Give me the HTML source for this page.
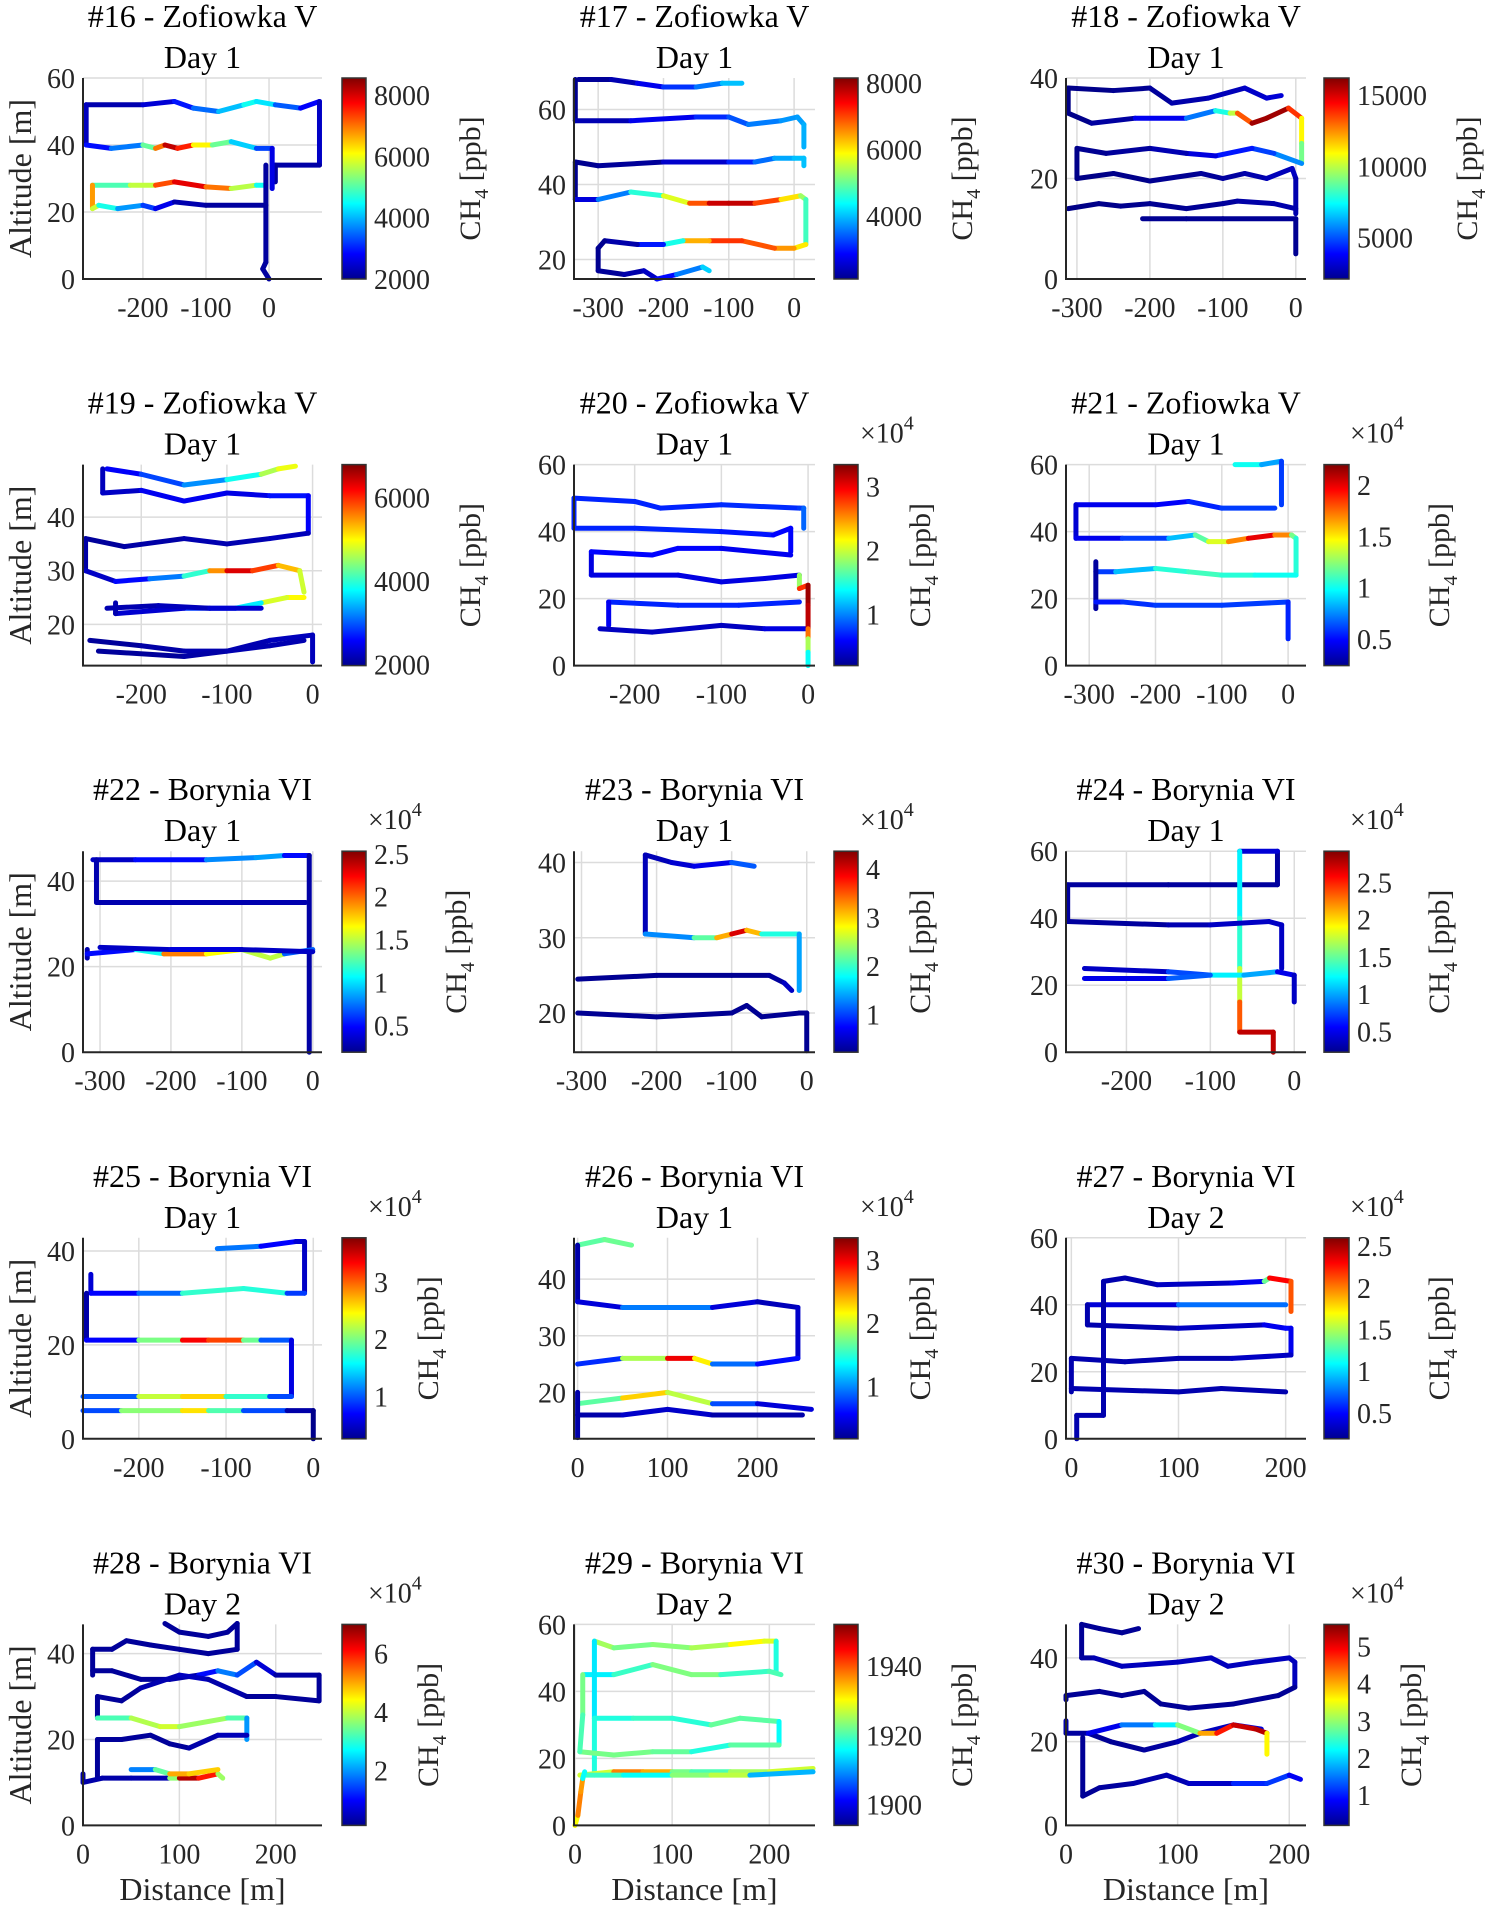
<!DOCTYPE html>
<html><head><meta charset="utf-8">
<style>
html,body{margin:0;padding:0;background:#fff;}
svg{display:block;font-family:"Liberation Serif","Times New Roman",serif;}
</style></head>
<body>
<svg id="fig" xmlns="http://www.w3.org/2000/svg" width="1493" height="1912" viewBox="0 0 1493 1912">
<defs>
<linearGradient id="jet" x1="0" y1="1" x2="0" y2="0">
<stop offset="0" stop-color="#00008f"/><stop offset="0.125" stop-color="#0000ff"/><stop offset="0.375" stop-color="#00ffff"/><stop offset="0.625" stop-color="#ffff00"/><stop offset="0.875" stop-color="#ff0000"/><stop offset="1" stop-color="#800000"/>
</linearGradient>
</defs>
</svg>
<script>
// ---- panel meta data ----
const panelIds=[16,17,18,19,20,21,22,23,24,25,26,27,28,29,30];
const panelSites=["Zofiowka V","Zofiowka V","Zofiowka V","Zofiowka V","Zofiowka V","Zofiowka V","Borynia VI","Borynia VI","Borynia VI","Borynia VI","Borynia VI","Borynia VI","Borynia VI","Borynia VI","Borynia VI"];
const panelDays=[1,1,1,1,1,1,1,1,1,1,1,2,2,2,2];
const xLims=[[-295,84],[-337,32],[-315,14],[-268,11],[-270,8],[-335,27],[-324,13],[-310,11],[-272,14],[-264,10],[-4,264],[-5,219],[0,248],[-1,247],[0,215]];
const yLims=[[0,60],[14.8,68.4],[0,40],[12.3,49.8],[0,60],[0,60],[0,47],[14.8,41.5],[0,60],[0,42.8],[11.8,47.3],[0,60],[0,46.8],[0,60],[0,48]];
const xTicks=[[-200,-100,0],[-300,-200,-100,0],[-300,-200,-100,0],[-200,-100,0],[-200,-100,0],[-300,-200,-100,0],[-300,-200,-100,0],[-300,-200,-100,0],[-200,-100,0],[-200,-100,0],[0,100,200],[0,100,200],[0,100,200],[0,100,200],[0,100,200]];
const yTicks=[[0,20,40,60],[20,40,60],[0,20,40],[20,30,40],[0,20,40,60],[0,20,40,60],[0,20,40],[20,30,40],[0,20,40,60],[0,20,40],[20,30,40],[0,20,40,60],[0,20,40],[0,20,40,60],[0,20,40]];
const cLims=[[2000,8560],[2100,8150],[2100,16200],[1970,6790],[0.2,3.34],[0.24,2.2],[0.19,2.53],[0.22,4.37],[0.22,2.92],[0.26,3.77],[0.17,3.35],[0.19,2.6],[0.12,7.0],[1894,1952],[0.18,5.6]];
const cTicks=[[2000,4000,6000,8000],[4000,6000,8000],[5000,10000,15000],[2000,4000,6000],[1,2,3],[0.5,1,1.5,2],[0.5,1,1.5,2,2.5],[1,2,3,4],[0.5,1,1.5,2,2.5],[1,2,3],[1,2,3],[0.5,1,1.5,2,2.5],[2,4,6],[1900,1920,1940],[1,2,3,4,5]];
const cExp=[false,false,false,false,true,true,true,true,true,true,true,true,true,false,true];

// ---- flight tracks: [distance, altitude, CH4] ----
const tracks16=[
[[-290,52,2200],[-200,52,2400],[-150,53,2700],[-120,51,3200],[-80,50,3800],[-40,52,4300],[-20,53,4800],[10,52,3800],[50,51,3000],[80,53,2600],[80,34,2300],[10,34,2200],[10,29,2200]],
[[-290,52,2200],[-290,40,2600]],
[[-290,40,2800],[-250,39,3000],[-200,40,4200],[-180,39,6000],[-165,40,8000],[-145,39,8300],[-120,40,6800],[-90,40,5500],[-60,41,4800],[-20,39,3500],[5,39,3000],[5,27,2300]],
[[-280,28,4700],[-220,28,5200],[-180,28,6200],[-150,29,8300],[-100,27.5,7500],[-60,27,6500],[-20,28,4800],[-5,28,4300]],
[[-280,28,7000],[-280,21,6500],[-270,22,5000],[-240,21,4200],[-200,22,3400],[-180,21,3000],[-150,23,2400],[-100,22,2200],[-5,22,2200]],
[[-5,34,2200],[-5,5,2200],[-10,3,2200],[0,0,2200]]];
const tracks17=[
[[-330,68,2200],[-280,68,2300],[-240,67,2500],[-200,66,3000],[-150,66,3300],[-110,67,3800],[-80,67,4200]],
[[-335,68,2200],[-335,57,2200]],
[[-335,57,2300],[-250,57,2500],[-150,58,3000],[-100,58,3200],[-70,56,3500],[-20,57,3700],[5,58,3800],[15,56,3800],[15,50,4000]],
[[-335,46,2200],[-300,45,2200],[-200,46,2300],[-100,46,2800],[-60,46,3300],[-30,47,3700],[0,47,4000],[15,47,4000],[15,45,4000]],
[[-335,46,2200],[-335,36,2200]],
[[-335,36,2300],[-300,36,3000],[-250,38,4200],[-200,37,5000],[-160,35,6400],[-130,35,7400],[-100,35,8000],[-60,35,7500],[-20,36,6500],[10,37,5600],[18,36,5000],[18,24,4500]],
[[18,24,5800],[0,23,6200],[-30,23,6800],[-80,25,7000],[-130,25,7200],[-170,25,5500],[-200,24,3500],[-240,24,2500],[-290,25,2200],[-300,23,2200],[-300,17,2200]],
[[-300,17,2200],[-260,16,2300],[-230,17,2400],[-210,14.8,2600],[-180,16,3200],[-140,18,4000],[-130,17,4200]]];
const tracks18=[
[[-312,38,2200],[-250,37.5,2300],[-200,38,2400],[-170,35,2600],[-120,36,2800],[-70,38,3000],[-40,36,3200],[-20,36.5,3400]],
[[-312,38,2200],[-312,33,2200]],
[[-312,33,2200],[-280,31,2300],[-220,32,2800],[-150,32,4500],[-110,33.5,6500],[-90,33,9000],[-80,33,11000],[-60,31,15500],[-40,32,16000],[-10,34,15500],[8,32,12000],[8,27,10000],[8,23,8000]],
[[8,23,6500],[-30,25,5000],[-60,26,4500],[-110,24.5,3800],[-150,25,3000],[-200,26,2600],[-260,25,2400],[-300,26,2300],[-300,20,2200]],
[[-300,20,2200],[-250,21,2200],[-200,19.5,2300],[-130,21,2400],[-100,20,2500],[-70,21,2600],[-40,20,2800],[-5,22,3000],[0,20,3000],[0,13,2500]],
[[-312,14,2200],[-270,15,2200],[-240,14.5,2300],[-200,15,2300],[-150,14,2400],[-100,15,2400],[-80,15.5,2600],[-30,15,2700],[0,14,2700]],
[[-210,12,2300],[-150,12,2400],[-100,12,2400],[0,12,2400],[0,5,2300]]];
const tracks19=[
[[-240,49,2300],[-200,48,2800],[-150,46,3000],[-100,47,3500],[-60,48,4200],[-40,49,5000],[-20,49.5,4800]],
[[-245,49,2300],[-245,44.5,2200]],
[[-245,44.5,2200],[-200,45,2400],[-150,43,2600],[-100,44.5,2400],[-50,44,2500],[-5,44,2800],[-5,37,2300]],
[[-265,36,2100],[-220,34.5,2100],[-150,36,2200],[-100,35,2200],[-50,36,2200],[-5,37,2300]],
[[-265,36,2100],[-265,30,2200]],
[[-265,30,2200],[-230,28,2400],[-190,28.5,2800],[-150,29,3500],[-120,30,4500],[-100,30,6500],[-70,30,6200],[-40,31,5600],[-15,30,5000],[-10,26,4500]],
[[-10,25,4600],[-30,25,5400],[-60,24,4200],[-90,23,3200],[-150,23,2500],[-230,22,2200],[-230,24,2200]],
[[-240,23,2200],[-180,23.5,2200],[-120,23,2300],[-60,23,2400]],
[[-260,17,2100],[-200,16,2100],[-150,15,2200],[-100,15,2200],[-50,17,2200],[0,18,2300],[0,13,2200]],
[[-250,15,2100],[-150,14,2100],[-100,15,2200],[-50,16,2200],[-10,17,2200]]];
const tracks20=[
[[-270,50,0.7],[-200,49,0.7],[-170,47,0.7],[-100,48,0.7],[-10,47,0.75],[-5,47,0.8],[-5,41,1.0]],
[[-270,50,0.7],[-270,41,0.7]],
[[-270,41,0.7],[-200,41,0.7],[-100,40,0.7],[-40,39,0.6],[-20,41,0.6],[-20,34,0.6]],
[[-250,34,0.5],[-250,27,0.5]],
[[-250,34,0.6],[-180,33,0.6],[-150,35,0.6],[-100,35,0.6],[-20,33,0.5]],
[[-250,27,0.5],[-150,27,0.5],[-100,25,0.5],[-50,26,0.5],[-10,27,0.5]],
[[-230,19,0.7],[-150,18,0.7],[-80,18,0.7],[-10,19,0.7]],
[[-230,19,0.6],[-230,12,0.5]],
[[-240,11,0.4],[-180,10,0.4],[-100,12,0.4],[-50,11,0.4],[0,11,0.6]],
[[-10,27,1.3],[-10,23,2.4],[0,24,3.2],[0,18,3.3],[0,11,3.0],[0,8,2.2],[0,4,1.6],[0,0,1.2]]];
const tracks21=[
[[-80,60,1.1],[-40,60,0.9],[-10,61,0.7],[-10,48,0.5]],
[[-320,48,0.45],[-200,48,0.45],[-150,49,0.5],[-100,47,0.6],[-20,47,0.6]],
[[-320,48,0.4],[-320,38,0.4]],
[[-320,38,0.4],[-250,38,0.5],[-180,38,0.7],[-140,39,1.0],[-120,37,1.3],[-90,37,1.5],[-60,38,1.9],[-20,39,2.1],[5,39,1.3],[12,38,1.1],[12,27,1.0]],
[[-290,28,0.5],[-260,28,0.7],[-200,29,1.0],[-150,28,1.1],[-100,27,1.1],[-50,27,1.0],[12,27,1.0]],
[[-290,31,0.3],[-290,17,0.3]],
[[-290,19,0.5],[-250,19,0.55],[-200,18,0.6],[-100,18,0.6],[0,19,0.6],[0,8,0.5]]];
const tracks22=[
[[-310,45,0.3],[-250,45,0.4],[-150,45,0.6],[-80,45.5,1.0],[-40,46,0.7],[-5,46,0.3],[-5,0,0.25]],
[[-305,45,0.3],[-305,35,0.3]],
[[-305,35,0.3],[-200,35,0.3],[-100,35,0.3],[-10,35,0.3]],
[[-318,24,0.3],[-318,22,0.3]],
[[-318,23,0.4],[-250,24,0.6],[-210,23,1.6],[-150,23,2.3],[-100,24,1.0],[-60,22,2.0],[-40,23,1.0],[0,24,0.4]],
[[-300,24.5,0.3],[-200,24,0.4],[-100,24,0.4],[0,23.5,0.3]]];
const tracks23=[
[[-215,41,0.4],[-180,40,0.5],[-150,39.5,0.6],[-100,40,0.7],[-70,39.5,1.5]],
[[-215,41,0.4],[-215,30.5,0.5]],
[[-215,30.5,0.8],[-150,30,1.8],[-120,30,2.5],[-100,30.5,3.8],[-80,31,4.2],[-60,30.5,2.0],[-10,30.5,1.8],[-10,23,1.0]],
[[-305,24.5,0.3],[-200,25,0.3],[-100,25,0.3],[-50,25,0.3],[-30,24,0.4],[-20,23,0.6]],
[[-305,20,0.3],[-200,19.5,0.3],[-100,20,0.3],[-80,21,0.3],[-60,19.5,0.3],[-10,20,0.3],[0,20,0.3],[0,15,0.3]]];
const tracks24=[
[[-270,50,0.3],[-150,50,0.3],[-20,50,0.3],[-20,60,0.3],[-65,60,0.6]],
[[-65,60,1.2],[-65,40,1.2],[-65,25,1.5],[-65,15,2.0],[-65,6,2.7],[-25,6,2.8],[-25,0,2.7]],
[[-270,39,0.3],[-150,38,0.3],[-100,38,0.4],[-30,39,0.4],[-15,38,0.4],[-15,25,0.4]],
[[-250,25,0.3],[-150,24,0.5],[-100,23,1.0],[-60,23,1.4],[-20,24,0.6],[0,23,0.4],[0,15,0.4]],
[[-250,22,0.4],[-150,22,0.6],[-100,23,1.0]],
[[-270,50,0.3],[-270,39,0.3]]];
const tracks25=[
[[-110,40.5,1.4],[-60,41,0.8],[-20,42,0.6],[-10,42,0.5],[-10,31,0.5]],
[[-255,35,0.5],[-255,31,0.6],[-200,31,0.8],[-150,31,1.3],[-80,32,2.2],[-30,31,1.2],[-10,31,0.6]],
[[-260,31,0.4],[-260,21,0.4],[-200,21,1.0],[-150,21,3.0],[-120,21,3.7],[-80,21,2.5],[-60,21,1.4],[-25,21,0.6],[-25,9,0.6]],
[[-264,9,0.5],[-200,9,1.5],[-150,9,3.0],[-100,9,2.2],[-50,9,1.3],[-25,9,0.6]],
[[-264,6,0.6],[-220,6,1.3],[-150,6,2.8],[-120,6,2.3],[-80,6,1.4],[-30,6,0.5],[0,6,0.3],[0,0,0.3]]];
const tracks26=[
[[0,46,1.5],[30,47,1.8],[60,46,1.6]],
[[0,46,0.3],[0,36,0.3]],
[[0,36,0.3],[50,35,0.6],[100,35,1.3],[150,35,0.6],[200,36,0.3],[245,35,0.4],[245,26,0.4]],
[[0,25,0.4],[50,26,1.0],[100,26,2.8],[130,26,3.2],[150,25,1.2],[200,25,0.6],[245,26,0.6]],
[[0,18,1.3],[50,19,2.0],[100,20,2.6],[150,18,1.3],[200,18,0.3],[260,17,0.6]],
[[0,16,0.3],[50,16,0.3],[100,17,0.5],[150,16,0.3],[250,16,0.3]],
[[0,20,0.3],[0,12,0.3]]];
const tracks27=[
[[30,47,0.3],[50,48,0.3],[80,46,0.3],[150,46.5,0.4],[180,47,0.5],[185,48,2.2],[205,47,2.4],[205,38,1.8]],
[[15,40,0.3],[100,40,0.5],[200,40,1.0]],
[[15,40,0.3],[15,34,0.3],[100,33,0.3],[180,34,0.4],[200,33,0.5],[205,33,0.5],[205,25,0.4]],
[[0,24,0.3],[50,23,0.3],[100,24,0.3],[150,24,0.3],[205,25,0.4]],
[[0,15,0.3],[100,14,0.3],[140,15,0.3],[200,14,0.3]],
[[30,47,0.3],[30,7,0.3],[5,7,0.3],[5,0,0.3]],
[[0,24,0.3],[0,14,0.3]]];
const tracks28=[
[[85,47,0.3],[100,45,0.3],[130,44,0.3],[150,45,0.3],[160,47,0.3],[160,41,0.3]],
[[10,41,0.3],[30,41,0.3],[45,43,0.3],[70,42,0.3],[100,41,0.3],[130,40,0.3],[160,41,0.3]],
[[10,41,0.3],[10,35,0.3]],
[[10,36,0.3],[30,36,0.3],[60,34,0.3],[90,34,0.3],[120,35,0.5],[140,36,1.6],[160,35,2.0],[180,38,1.0],[200,35,0.4],[245,35,0.3],[245,29,0.3]],
[[15,30,0.3],[40,29,0.3],[60,32,0.3],[100,35,0.6],[130,34,0.5],[170,30,0.3],[200,30,0.3],[245,29,0.3]],
[[15,30,0.3],[15,25,0.3]],
[[15,25,2.8],[50,25,3.6],[80,23,4.2],[100,23,4.0],[150,25,3.5],[170,25,3.0],[170,20,1.0]],
[[15,20,0.3],[40,20,0.3],[70,21,0.3],[90,19,0.3],[110,18,0.3],[140,21,0.5],[170,21,0.5]],
[[15,20,0.3],[15,11,0.3]],
[[0,12,0.4],[0,10,0.4],[20,11,0.4],[50,11,0.4],[90,11,0.5],[100,11,6.8],[120,11,6.5],[140,12,5.5],[145,11,2.0]],
[[50,13,1.5],[75,13,2.2],[90,12,4.5],[110,12,5.5],[140,13,4.0]]];
const tracks29=[
[[20,55,1925],[40,53,1925],[80,54,1920],[120,53,1927],[160,54,1924],[195,55,1937],[207,55,1920],[207,46,1915]],
[[10,45,1910],[40,45,1920],[80,48,1918],[120,45,1928],[150,45,1918],[200,46,1920],[212,45,1920]],
[[20,55,1915],[20,45,1914],[20,32,1915],[20,15,1920]],
[[20,32,1915],[60,32,1920],[100,32,1918],[140,30,1918],[170,32,1925],[210,31,1917],[210,24,1915]],
[[5,22,1925],[40,21,1920],[80,22,1925],[120,22,1918],[160,24,1917],[210,24,1925]],
[[5,15,1920],[40,16,1935],[70,16,1940],[100,16,1930],[120,16,1915],[160,16,1925],[200,16,1925],[245,17,1930]],
[[10,15,1918],[50,15,1920],[100,15,1912],[140,15,1935],[180,15,1918],[245,16,1905]],
[[0,0,1935],[3,3,1925],[6,10,1950],[8,14,1922],[10,16,1910]],
[[8,45,1915],[8,33,1930],[5,22,1910]]];
const tracks30=[
[[14,48,0.3],[30,47,0.3],[50,46,0.3],[65,47,0.3]],
[[14,48,0.3],[14,40,0.3],[25,40,0.4],[50,38,0.5],[100,39,0.5],[130,40,0.5],[145,38,0.5],[170,39,0.5],[200,40,0.5],[205,39,0.5],[205,33,0.5]],
[[0,30,0.3],[0,31,0.3],[30,32,0.3],[50,31,0.3],[70,32,0.3],[85,29,0.3],[110,28,0.3],[150,29,0.3],[190,31,0.3],[205,33,0.3]],
[[0,25,0.4],[0,22,0.4],[20,22,0.3],[40,20,0.3],[70,18,0.3],[100,20,0.4],[120,22,0.5],[150,24,0.5],[175,23,0.8]],
[[20,22,0.5],[50,24,1.0],[80,24,2.0],[100,24,2.3],[120,22,3.5],[135,22,4.6],[150,24,5.0],[170,23,5.4],[180,22,5.2],[180,17,2.0]],
[[15,21,0.3],[15,7,0.3],[30,9,0.3],[60,10,0.4],[90,12,0.4],[110,10,0.5],[150,10,0.6],[180,10,1.5],[200,12,0.8],[210,11,0.8]]];
const allTracks=[tracks16,tracks17,tracks18,tracks19,tracks20,tracks21,tracks22,tracks23,tracks24,tracks25,tracks26,tracks27,tracks28,tracks29,tracks30];

// ---- layout (pixels) ----
const COLS=[{x0:83,x1:322,cb0:342,cb1:366},{x0:574,x1:815,cb0:834,cb1:858},{x0:1066,x1:1306,cb0:1324,cb1:1349}];
const ROW_TOP=78, ROW_STEP=386.6, AX_H=201;
const NS="http://www.w3.org/2000/svg";
const svg=document.getElementById("fig");
function mk(tag,attrs,parent){const e=document.createElementNS(NS,tag);for(const k in attrs)e.setAttribute(k,attrs[k]);(parent||svg).appendChild(e);return e;}
function clamp(v){return Math.max(0,Math.min(1,v));}
function jet(t){t=clamp(t);const r=clamp(1.5-Math.abs(4*t-3)),g=clamp(1.5-Math.abs(4*t-2)),b=clamp(1.5-Math.abs(4*t-1));return "rgb("+Math.round(r*255)+","+Math.round(g*255)+","+Math.round(b*255)+")";}
function fmt(v){return String(v);}

panelIds.forEach((id,i)=>{
  const col=COLS[i%3], row=Math.floor(i/3);
  const top=ROW_TOP+row*ROW_STEP, bot=top+AX_H;
  const xl=xLims[i], yl=yLims[i], cl=cLims[i];
  const sx=v=>col.x0+(v-xl[0])/(xl[1]-xl[0])*(col.x1-col.x0);
  const sy=v=>bot-(v-yl[0])/(yl[1]-yl[0])*AX_H;
  const sc=v=>bot-(v-cl[0])/(cl[1]-cl[0])*AX_H;
  const g=mk("g",{});
  
  
  const cx=(col.x0+col.x1)/2;
  const t1=mk("text",{x:cx,y:top-51,"text-anchor":"middle","font-size":32,fill:"#000"},g);
  t1.textContent="#"+id+" - "+panelSites[i];
  
  
  const t2=mk("text",{x:cx,y:top-10,"text-anchor":"middle","font-size":32,fill:"#000"},g);
  t2.textContent="Day "+panelDays[i];
  
  
  xTicks[i].forEach(v=>{const l=mk("line",{x1:sx(v),x2:sx(v),y1:top,y2:bot,stroke:"#dcdcdc","stroke-width":1.5},g);
    
    });
  yTicks[i].forEach(v=>{const l=mk("line",{x1:col.x0,x2:col.x1,y1:sy(v),y2:sy(v),stroke:"#dcdcdc","stroke-width":1.5},g);
    
    });
  const tg=mk("g",{"stroke-linecap":"round","stroke-width":5,fill:"none"},g);
  
  
  allTracks[i].forEach(tr=>{
    for(let k=0;k<tr.length-1;k++){
      const a=tr[k],b=tr[k+1];
      const c=jet(((a[2]+b[2])/2-cl[0])/(cl[1]-cl[0]));
      const s=mk("line",{x1:sx(a[0]),y1:sy(a[1]),x2:sx(b[0]),y2:sy(b[1]),stroke:c},tg);
      
      
    }
  });
  const ax=mk("path",{d:"M"+col.x0+" "+top+" V"+bot+" H"+col.x1,stroke:"#262626","stroke-width":2,fill:"none"},g);
  
  
  xTicks[i].forEach(v=>{const t=mk("text",{x:sx(v),y:bot+38,"text-anchor":"middle","font-size":28,fill:"#262626"},g);
    t.textContent=fmt(v);
    
    });
  yTicks[i].forEach(v=>{const t=mk("text",{x:col.x0-8,y:sy(v)+10,"text-anchor":"end","font-size":28,fill:"#262626"},g);
    t.textContent=fmt(v);
    
    });
  const cb=mk("rect",{x:col.cb0,y:top,width:col.cb1-col.cb0,height:AX_H,fill:"url(#jet)",stroke:"#333","stroke-width":1.5},g);
  
  
  let maxLen=0;
  cTicks[i].forEach(v=>{const s=fmt(v);maxLen=Math.max(maxLen,s.length);
    const t=mk("text",{x:col.cb1+8,y:sc(v)+10,"font-size":28,fill:"#262626"},g);
    t.textContent=s;
    
    });
  const lw=maxLen*14;
  const lx=col.cb1+8+lw+50, ly=(top+bot)/2;
  const cl2=mk("text",{x:lx,y:ly,"text-anchor":"middle","font-size":30,fill:"#262626",transform:"rotate(-90 "+lx+" "+ly+")"},g);
  cl2.innerHTML='CH<tspan dy="8" font-size="20">4</tspan><tspan dy="-8"> [ppb]</tspan>';
  
  
  if(cExp[i]){
    const e=mk("text",{x:col.cb0+26,y:top-22,"font-size":28,fill:"#262626"},g);
    e.innerHTML='×10<tspan dy="-13" font-size="20">4</tspan>';
    
    
  }
  if(i%3===0){
    const yx=31, yy=(top+bot)/2;
    const yl2=mk("text",{x:yx,y:yy,"text-anchor":"middle","font-size":32,fill:"#262626",transform:"rotate(-90 "+yx+" "+yy+")"},g);
    yl2.textContent="Altitude [m]";
    
    
  }
  if(row===4){
    const xt=mk("text",{x:cx,y:1900,"text-anchor":"middle","font-size":32,fill:"#262626"},g);
    xt.textContent="Distance [m]";
    
    
  }
});
</script>
</body></html>
